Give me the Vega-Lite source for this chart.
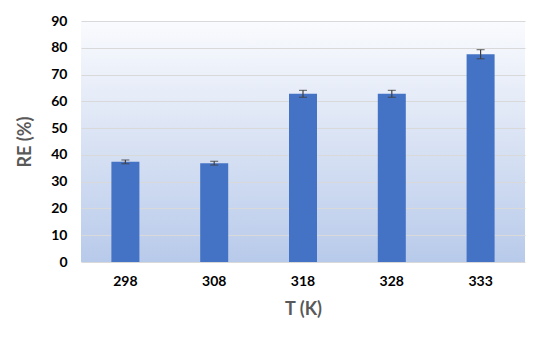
{
  "$schema": "https://vega.github.io/schema/vega-lite/v6.json",
  "width": 444,
  "height": 241,
  "autosize": "none",
  "padding": {"left": 81, "top": 21, "right": 25, "bottom": 83},
  "background": "#ffffff",
  "data": {
    "values": [
      {"T": "298", "RE": 37.4, "lo": 36.7, "hi": 38.1},
      {"T": "308", "RE": 36.9, "lo": 36.2, "hi": 37.6},
      {"T": "318", "RE": 62.8, "lo": 61.5, "hi": 64.1},
      {"T": "328", "RE": 62.8, "lo": 61.5, "hi": 64.1},
      {"T": "333", "RE": 77.6, "lo": 75.9, "hi": 79.3}
    ]
  },
  "encoding": {
    "x": {
      "field": "T",
      "type": "nominal",
      "sort": null,
      "scale": {"paddingInner": 0.685, "paddingOuter": 0.3425},
      "axis": {
        "title": "T (K)",
        "labelAngle": 0,
        "labelFont": "Lato",
        "labelFontSize": 14,
        "labelFontWeight": "bold",
        "labelColor": "#000000",
        "labelPadding": 12,
        "titleFont": "Lato",
        "titleFontSize": 18,
        "titleFontWeight": "bold",
        "titleColor": "#595959",
        "titlePadding": 12,
        "domain": false,
        "ticks": false,
        "grid": false
      }
    }
  },
  "layer": [
    {
      "mark": {"type": "bar", "color": "#4472c4", "size": 28},
      "encoding": {
        "y": {
          "field": "RE",
          "type": "quantitative",
          "scale": {"domain": [0, 90]},
          "axis": {
            "title": "RE (%)",
            "values": [0, 10, 20, 30, 40, 50, 60, 70, 80, 90],
            "labelOverlap": false,
            "labelFont": "Lato",
            "labelFontSize": 14,
            "labelFontWeight": "bold",
            "labelColor": "#000000",
            "labelPadding": 14,
            "titleFont": "Lato",
            "titleFontSize": 18,
            "titleFontWeight": "bold",
            "titleColor": "#595959",
            "titlePadding": 16,
            "domain": false,
            "ticks": false,
            "gridColor": "#d9d9d9",
            "gridWidth": 1
          }
        }
      }
    },
    {
      "mark": {"type": "rule", "color": "#404040", "strokeWidth": 1.2},
      "encoding": {
        "y": {
          "field": "lo",
          "type": "quantitative",
          "axis": {
            "title": "RE (%)",
            "values": [0, 10, 20, 30, 40, 50, 60, 70, 80, 90],
            "labelOverlap": false,
            "labelFont": "Lato",
            "labelFontSize": 14,
            "labelFontWeight": "bold",
            "labelColor": "#000000",
            "labelPadding": 14,
            "titleFont": "Lato",
            "titleFontSize": 18,
            "titleFontWeight": "bold",
            "titleColor": "#595959",
            "titlePadding": 16,
            "domain": false,
            "ticks": false,
            "gridColor": "#d9d9d9",
            "gridWidth": 1
          }
        },
        "y2": {"field": "hi"}
      }
    },
    {
      "mark": {"type": "tick", "color": "#404040", "size": 8, "thickness": 1.2, "orient": "horizontal"},
      "encoding": {
        "y": {
          "field": "lo",
          "type": "quantitative",
          "axis": {
            "title": "RE (%)",
            "values": [0, 10, 20, 30, 40, 50, 60, 70, 80, 90],
            "labelOverlap": false,
            "labelFont": "Lato",
            "labelFontSize": 14,
            "labelFontWeight": "bold",
            "labelColor": "#000000",
            "labelPadding": 14,
            "titleFont": "Lato",
            "titleFontSize": 18,
            "titleFontWeight": "bold",
            "titleColor": "#595959",
            "titlePadding": 16,
            "domain": false,
            "ticks": false,
            "gridColor": "#d9d9d9",
            "gridWidth": 1
          }
        }
      }
    },
    {
      "mark": {"type": "tick", "color": "#404040", "size": 8, "thickness": 1.2, "orient": "horizontal"},
      "encoding": {
        "y": {
          "field": "hi",
          "type": "quantitative",
          "axis": {
            "title": "RE (%)",
            "values": [0, 10, 20, 30, 40, 50, 60, 70, 80, 90],
            "labelOverlap": false,
            "labelFont": "Lato",
            "labelFontSize": 14,
            "labelFontWeight": "bold",
            "labelColor": "#000000",
            "labelPadding": 14,
            "titleFont": "Lato",
            "titleFontSize": 18,
            "titleFontWeight": "bold",
            "titleColor": "#595959",
            "titlePadding": 16,
            "domain": false,
            "ticks": false,
            "gridColor": "#d9d9d9",
            "gridWidth": 1
          }
        }
      }
    }
  ],
  "config": {
    "view": {
      "stroke": null,
      "fill": {
        "gradient": "linear",
        "x1": 0, "y1": 0, "x2": 0, "y2": 1,
        "stops": [
          {"offset": 0, "color": "#fafbfe"},
          {"offset": 1, "color": "#b8caea"}
        ]
      }
    }
  }
}
